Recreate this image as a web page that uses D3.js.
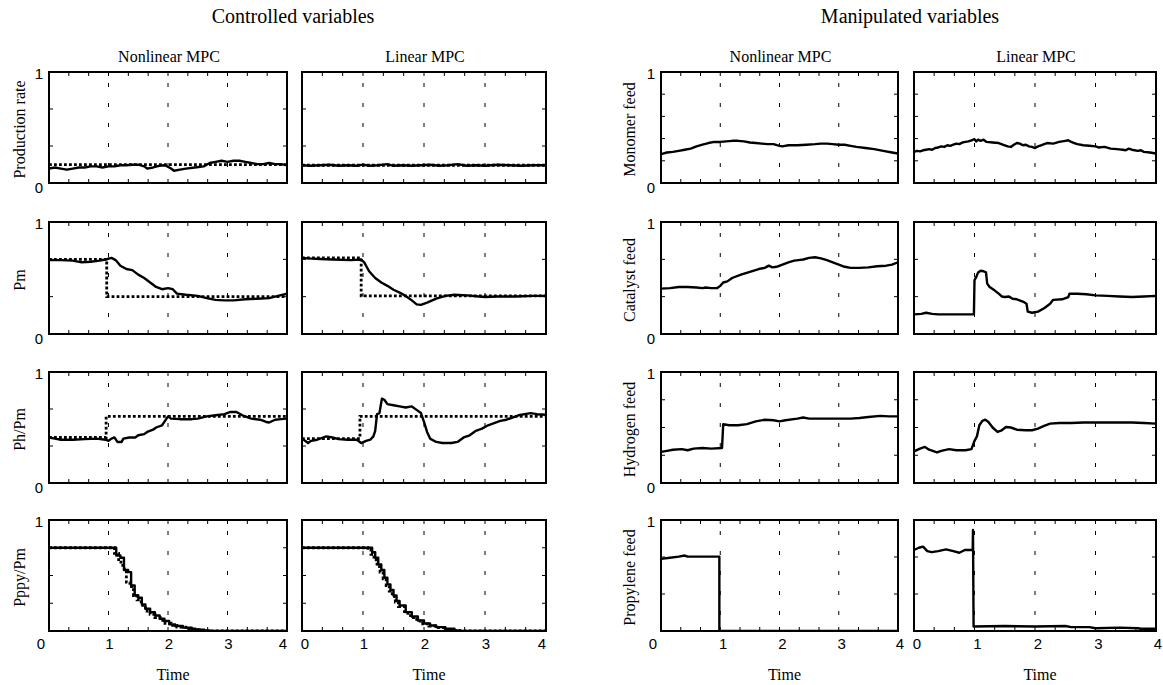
<!DOCTYPE html>
<html>
<head>
<meta charset="utf-8">
<script src="https://cdn.jsdelivr.net/npm/d3@7"></script>
<style>
  html, body { margin: 0; padding: 0; background: #fff; }
  svg { display: block; }
  .serif { font-family: "Liberation Serif", "Times New Roman", serif; fill: #000; }
  .sans { font-family: "Liberation Sans", Arial, sans-serif; fill: #000; }
</style>
</head>
<body>
<svg id="chart" width="1163" height="685"></svg>
<script>
// ---- Data -------------------------------------------------------------
const timeTicks = [0, 1, 2, 3, 4];
const groupTitles = ["Controlled variables", "Manipulated variables"];
const columnTitles = ["Nonlinear MPC", "Linear MPC"];
const controlledLabels = ["Production rate", "Pm", "Ph/Pm", "Pppy/Pm"];
const manipulatedLabels = ["Monomer feed", "Catalyst feed", "Hydrogen feed", "Propylene feed"];

// Production rate
const prodNonlinear = [[0,0.13],[0.1,0.14],[0.2,0.13],[0.3,0.12],[0.4,0.13],[0.5,0.14],[0.6,0.14],[0.7,0.15],[0.8,0.15],[0.9,0.14],[1.0,0.15],[1.1,0.15],[1.2,0.16],[1.3,0.16],[1.4,0.165],[1.5,0.165],[1.6,0.15],[1.65,0.13],[1.75,0.14],[1.85,0.155],[1.95,0.16],[2.05,0.13],[2.1,0.11],[2.2,0.12],[2.3,0.13],[2.45,0.14],[2.6,0.15],[2.7,0.18],[2.8,0.19],[2.9,0.2],[3.0,0.19],[3.1,0.2],[3.2,0.2],[3.3,0.19],[3.4,0.18],[3.5,0.17],[3.6,0.17],[3.7,0.18],[3.8,0.17],[3.9,0.17],[4.0,0.16]];
const prodNonlinearSet = [[0,0.165],[4,0.165]];
const prodLinear = [[0,0.16],[0.15,0.155],[0.3,0.16],[0.45,0.165],[0.6,0.155],[0.75,0.16],[0.9,0.155],[1.0,0.165],[1.1,0.155],[1.25,0.16],[1.4,0.17],[1.5,0.155],[1.65,0.16],[1.8,0.155],[1.95,0.16],[2.1,0.165],[2.25,0.155],[2.4,0.16],[2.55,0.17],[2.7,0.155],[2.85,0.16],[3.0,0.155],[3.2,0.165],[3.4,0.16],[3.6,0.155],[3.8,0.16],[4,0.16]];
const prodLinearSet = [[0,0.16],[4,0.16]];

// Pm
const pmNonlinear = [[0,0.66],[0.2,0.66],[0.4,0.655],[0.55,0.64],[0.7,0.645],[0.85,0.655],[0.95,0.665],[1.05,0.68],[1.12,0.66],[1.2,0.61],[1.3,0.58],[1.4,0.57],[1.5,0.53],[1.6,0.5],[1.7,0.46],[1.8,0.42],[1.9,0.4],[2.0,0.41],[2.08,0.4],[2.15,0.36],[2.3,0.35],[2.5,0.34],[2.65,0.32],[2.8,0.305],[2.95,0.3],[3.1,0.3],[3.3,0.31],[3.5,0.315],[3.7,0.32],[3.85,0.34],[4.0,0.36]];
const pmNonlinearSet = [[0,0.667],[0.97,0.333],[4,0.333]];
const pmLinear = [[0,0.68],[0.1,0.675],[0.3,0.67],[0.5,0.665],[0.8,0.66],[0.97,0.665],[1.02,0.64],[1.1,0.56],[1.2,0.5],[1.3,0.46],[1.4,0.43],[1.5,0.395],[1.6,0.37],[1.7,0.34],[1.8,0.3],[1.88,0.265],[1.95,0.26],[2.05,0.28],[2.2,0.315],[2.35,0.34],[2.5,0.35],[2.7,0.345],[2.9,0.335],[3.0,0.33],[3.2,0.335],[3.5,0.335],[3.8,0.34],[4.0,0.34]];
const pmLinearSet = [[0,0.68],[0.97,0.34],[4,0.34]];

// Ph/Pm
const phNonlinear = [[0,0.41],[0.1,0.4],[0.2,0.39],[0.4,0.39],[0.6,0.395],[0.8,0.4],[0.95,0.39],[1.0,0.38],[1.05,0.4],[1.1,0.41],[1.15,0.37],[1.22,0.37],[1.25,0.4],[1.35,0.41],[1.45,0.41],[1.5,0.43],[1.6,0.44],[1.65,0.46],[1.75,0.48],[1.8,0.5],[1.9,0.52],[1.95,0.56],[2.0,0.6],[2.05,0.58],[2.2,0.575],[2.4,0.575],[2.5,0.58],[2.65,0.6],[2.8,0.61],[2.95,0.62],[3.05,0.64],[3.15,0.64],[3.25,0.61],[3.4,0.58],[3.55,0.57],[3.65,0.55],[3.7,0.545],[3.8,0.57],[3.9,0.575],[4.0,0.58]];
const phNonlinearSet = [[0,0.41],[0.96,0.6],[4,0.6]];
const phLinear = [[0,0.4],[0.05,0.38],[0.1,0.36],[0.15,0.38],[0.25,0.39],[0.4,0.42],[0.5,0.41],[0.6,0.395],[0.75,0.39],[0.9,0.39],[0.97,0.36],[1.05,0.38],[1.12,0.39],[1.17,0.42],[1.2,0.47],[1.23,0.62],[1.27,0.63],[1.31,0.76],[1.35,0.75],[1.4,0.71],[1.5,0.7],[1.6,0.69],[1.7,0.68],[1.8,0.69],[1.85,0.67],[1.95,0.63],[2.0,0.55],[2.05,0.46],[2.1,0.4],[2.2,0.37],[2.3,0.36],[2.45,0.36],[2.55,0.37],[2.65,0.41],[2.75,0.43],[2.85,0.47],[2.95,0.49],[3.05,0.52],[3.15,0.54],[3.25,0.56],[3.35,0.57],[3.45,0.59],[3.55,0.61],[3.65,0.62],[3.75,0.63],[3.85,0.62],[4.0,0.615]];
const phLinearSet = [[0,0.4],[0.95,0.6],[4,0.6]];

// Pppy/Pm
const pppyNonlinear = [[0,0.75],[1.13,0.68],[1.2,0.66],[1.26,0.55],[1.33,0.53],[1.38,0.41],[1.44,0.32],[1.5,0.3],[1.56,0.24],[1.62,0.2],[1.7,0.17],[1.78,0.14],[1.86,0.11],[1.94,0.09],[2.02,0.06],[2.12,0.045],[2.25,0.03],[2.4,0.015],[2.55,0.005],[2.7,0],[4,0]];
const pppyNonlinearSet = [[0,0.75],[1.1,0.7],[1.17,0.62],[1.24,0.56],[1.3,0.44],[1.36,0.4],[1.42,0.32],[1.48,0.28],[1.55,0.23],[1.62,0.18],[1.7,0.15],[1.78,0.12],[1.87,0.095],[1.95,0.07],[2.05,0.05],[2.15,0.035],[2.3,0.02],[2.45,0.01],[2.6,0],[4,0]];
const pppyLinear = [[0,0.75],[1.1,0.75],[1.15,0.71],[1.2,0.66],[1.25,0.6],[1.3,0.55],[1.35,0.48],[1.4,0.42],[1.45,0.37],[1.5,0.32],[1.55,0.27],[1.6,0.23],[1.7,0.17],[1.8,0.13],[1.9,0.095],[2.0,0.068],[2.1,0.05],[2.2,0.035],[2.35,0.02],[2.5,0.005],[2.6,0],[4,0]];
const pppyLinearSet = [[0,0.75],[1.08,0.73],[1.13,0.69],[1.18,0.64],[1.23,0.58],[1.28,0.53],[1.33,0.47],[1.38,0.41],[1.43,0.36],[1.48,0.31],[1.53,0.26],[1.58,0.22],[1.68,0.16],[1.78,0.12],[1.88,0.09],[1.98,0.065],[2.08,0.045],[2.18,0.03],[2.33,0.015],[2.48,0.004],[2.58,0],[4,0]];

// Monomer feed
const monoNonlinear = [[0,0.26],[0.1,0.275],[0.2,0.28],[0.3,0.29],[0.4,0.3],[0.5,0.31],[0.6,0.33],[0.7,0.345],[0.8,0.36],[0.9,0.37],[1.0,0.37],[1.1,0.375],[1.2,0.38],[1.3,0.38],[1.4,0.375],[1.5,0.365],[1.6,0.36],[1.7,0.355],[1.8,0.35],[1.9,0.35],[2.0,0.335],[2.05,0.33],[2.15,0.34],[2.3,0.34],[2.45,0.345],[2.6,0.35],[2.7,0.355],[2.8,0.355],[2.9,0.35],[3.0,0.345],[3.1,0.345],[3.2,0.335],[3.3,0.325],[3.45,0.315],[3.6,0.305],[3.75,0.29],[3.9,0.275],[4.0,0.265]];
const monoLinear = [[0,0.28],[0.05,0.29],[0.1,0.285],[0.15,0.295],[0.2,0.3],[0.25,0.305],[0.3,0.3],[0.35,0.315],[0.4,0.32],[0.45,0.33],[0.5,0.325],[0.55,0.34],[0.6,0.335],[0.65,0.345],[0.7,0.355],[0.75,0.35],[0.8,0.365],[0.85,0.37],[0.9,0.375],[0.95,0.385],[1.0,0.395],[1.03,0.375],[1.06,0.39],[1.1,0.38],[1.15,0.39],[1.2,0.37],[1.3,0.365],[1.4,0.36],[1.5,0.34],[1.55,0.33],[1.6,0.325],[1.65,0.345],[1.7,0.36],[1.75,0.355],[1.8,0.34],[1.85,0.345],[1.9,0.33],[1.95,0.325],[2.0,0.315],[2.05,0.33],[2.1,0.34],[2.15,0.35],[2.2,0.36],[2.3,0.355],[2.4,0.37],[2.5,0.38],[2.55,0.385],[2.6,0.37],[2.65,0.36],[2.7,0.35],[2.8,0.34],[2.9,0.335],[3.0,0.33],[3.05,0.32],[3.15,0.325],[3.25,0.31],[3.35,0.305],[3.45,0.3],[3.5,0.295],[3.55,0.31],[3.6,0.3],[3.7,0.29],[3.75,0.295],[3.8,0.28],[3.9,0.275],[4.0,0.265]];

// Catalyst feed
const catNonlinear = [[0,0.405],[0.15,0.41],[0.3,0.42],[0.45,0.42],[0.6,0.415],[0.7,0.41],[0.75,0.415],[0.85,0.41],[0.95,0.41],[1.0,0.43],[1.05,0.46],[1.12,0.47],[1.2,0.5],[1.35,0.53],[1.5,0.555],[1.65,0.58],[1.75,0.59],[1.82,0.61],[1.88,0.595],[1.95,0.6],[2.05,0.62],[2.15,0.64],[2.25,0.655],[2.32,0.66],[2.4,0.665],[2.5,0.68],[2.6,0.685],[2.7,0.675],[2.8,0.66],[2.9,0.64],[3.0,0.62],[3.1,0.6],[3.2,0.59],[3.35,0.59],[3.5,0.595],[3.65,0.605],[3.8,0.61],[3.9,0.62],[4.0,0.64]];
const catLinear = [[0,0.175],[0.12,0.18],[0.2,0.19],[0.3,0.18],[0.4,0.175],[0.99,0.175],[1.0,0.48],[1.03,0.51],[1.06,0.55],[1.1,0.565],[1.15,0.56],[1.19,0.55],[1.21,0.45],[1.25,0.42],[1.33,0.39],[1.4,0.36],[1.45,0.335],[1.5,0.33],[1.57,0.335],[1.63,0.315],[1.7,0.31],[1.8,0.29],[1.86,0.27],[1.88,0.2],[1.95,0.19],[2.05,0.2],[2.15,0.23],[2.25,0.27],[2.3,0.305],[2.45,0.31],[2.55,0.33],[2.57,0.36],[2.7,0.36],[2.85,0.355],[3.0,0.345],[3.2,0.34],[3.4,0.335],[3.6,0.33],[3.8,0.335],[4.0,0.34]];

// Hydrogen feed
const hydNonlinear = [[0,0.28],[0.1,0.29],[0.2,0.3],[0.35,0.305],[0.45,0.295],[0.55,0.31],[0.7,0.315],[0.85,0.31],[1.03,0.315],[1.05,0.53],[1.15,0.52],[1.3,0.52],[1.45,0.53],[1.6,0.555],[1.75,0.57],[1.9,0.565],[2.0,0.555],[2.1,0.565],[2.3,0.58],[2.4,0.59],[2.5,0.58],[2.7,0.58],[3.0,0.58],[3.2,0.58],[3.35,0.585],[3.5,0.595],[3.7,0.605],[3.85,0.6],[4.0,0.6]];
const hydLinear = [[0,0.285],[0.1,0.31],[0.18,0.325],[0.25,0.3],[0.38,0.275],[0.45,0.29],[0.58,0.305],[0.7,0.295],[0.85,0.295],[0.95,0.305],[1.0,0.38],[1.04,0.42],[1.08,0.52],[1.13,0.56],[1.18,0.57],[1.23,0.55],[1.3,0.5],[1.38,0.46],[1.45,0.475],[1.52,0.505],[1.6,0.5],[1.7,0.48],[1.85,0.475],[1.95,0.475],[2.05,0.49],[2.15,0.515],[2.25,0.535],[2.4,0.54],[2.6,0.54],[2.8,0.545],[3.0,0.545],[3.3,0.545],[3.6,0.545],[3.8,0.54],[4.0,0.535]];

// Propylene feed
const propNonlinear = [[0,0.65],[0.15,0.66],[0.3,0.67],[0.4,0.68],[0.45,0.67],[0.6,0.67],[0.985,0.67],[0.985,0],[4,0]];
const propLinear = [[0,0.73],[0.08,0.75],[0.15,0.76],[0.22,0.72],[0.29,0.71],[0.4,0.72],[0.53,0.735],[0.65,0.72],[0.75,0.705],[0.84,0.73],[0.97,0.73],[0.975,0.91],[0.985,0.04],[1.5,0.045],[2.0,0.04],[2.5,0.045],[2.6,0.035],[2.9,0.035],[3.0,0.025],[3.4,0.03],[3.7,0.025],[3.75,0.02],[4.0,0.02]];

// ---- Layout -----------------------------------------------------------
const svg = d3.select("#chart");
svg.append("rect").attr("width", 1163).attr("height", 685).attr("fill", "#fff");

const columns = [
  { x0: 49,  x1: 287,  group: 0 },
  { x0: 302, x1: 546,  group: 0 },
  { x0: 661, x1: 898,  group: 1 },
  { x0: 914, x1: 1156, group: 1 }
];
const rows = [
  { y0: 72,  y1: 183 },
  { y0: 222, y1: 334 },
  { y0: 372, y1: 483 },
  { y0: 520, y1: 631 }
];
// number of y intervals marked by ticks, per group and row
const yDivisions = [[3, 3, 3, 4], [5, 3, 4, 3]];

// panel definitions: [col, row, solid, dotted, solidCurve, dottedCurve]
const step = d3.curveStepAfter, lin = d3.curveLinear;
const panels = [
  [0, 0, prodNonlinear, prodNonlinearSet, lin, lin],
  [1, 0, prodLinear, prodLinearSet, lin, lin],
  [0, 1, pmNonlinear, pmNonlinearSet, lin, step],
  [1, 1, pmLinear, pmLinearSet, lin, step],
  [0, 2, phNonlinear, phNonlinearSet, lin, step],
  [1, 2, phLinear, phLinearSet, lin, step],
  [0, 3, pppyNonlinear, pppyNonlinearSet, step, step],
  [1, 3, pppyLinear, pppyLinearSet, step, step],
  [2, 0, monoNonlinear, null, lin, null],
  [3, 0, monoLinear, null, lin, null],
  [2, 1, catNonlinear, null, lin, null],
  [3, 1, catLinear, null, lin, null],
  [2, 2, hydNonlinear, null, lin, null],
  [3, 2, hydLinear, null, lin, null],
  [2, 3, propNonlinear, null, lin, null],
  [3, 3, propLinear, null, lin, null]
];

const defs = svg.append("defs");

panels.forEach(([ci, ri, solid, dotted, sc, dc], idx) => {
  const col = columns[ci], row = rows[ri];
  const x = d3.scaleLinear().domain([0, 4]).range([col.x0, col.x1]);
  const y = d3.scaleLinear().domain([0, 1]).range([row.y1, row.y0]);
  const g = svg.append("g");
  const clipId = "clip" + idx;
  defs.append("clipPath").attr("id", clipId)
    .append("rect").attr("x", col.x0).attr("y", row.y0)
    .attr("width", col.x1 - col.x0).attr("height", row.y1 - row.y0);

  // dashed grid lines at integer times
  g.selectAll(".grid").data([1, 2, 3]).join("line")
    .attr("x1", d => x(d)).attr("x2", d => x(d))
    .attr("y1", row.y0).attr("y2", row.y1)
    .attr("stroke", "#000").attr("stroke-width", 1)
    .attr("stroke-dasharray", "4,16").attr("stroke-dashoffset", 9);

  // inward minor ticks (x every 1/3, y per row setting)
  const xt = d3.range(1, 12).map(i => i / 3);
  const nDiv = yDivisions[col.group][ri];
  const yt = d3.range(1, nDiv).map(i => i / nDiv);
  const tl = 4;
  g.selectAll(".xtb").data(xt).join("line")
    .attr("x1", d => x(d)).attr("x2", d => x(d))
    .attr("y1", row.y1).attr("y2", row.y1 - tl)
    .attr("stroke", "#000").attr("stroke-width", 1);
  g.selectAll(".xtt").data(xt).join("line")
    .attr("x1", d => x(d)).attr("x2", d => x(d))
    .attr("y1", row.y0).attr("y2", row.y0 + tl)
    .attr("stroke", "#000").attr("stroke-width", 1);
  g.selectAll(".ytl").data(yt).join("line")
    .attr("x1", col.x0).attr("x2", col.x0 + tl)
    .attr("y1", d => y(d)).attr("y2", d => y(d))
    .attr("stroke", "#000").attr("stroke-width", 1);
  g.selectAll(".ytr").data(yt).join("line")
    .attr("x1", col.x1).attr("x2", col.x1 - tl)
    .attr("y1", d => y(d)).attr("y2", d => y(d))
    .attr("stroke", "#000").attr("stroke-width", 1);

  const plot = g.append("g").attr("clip-path", `url(#${clipId})`);
  if (dotted) {
    plot.append("path").datum(dotted)
      .attr("d", d3.line().x(d => x(d[0])).y(d => y(d[1])).curve(dc))
      .attr("fill", "none").attr("stroke", "#000")
      .attr("stroke-width", 2.8).attr("stroke-dasharray", "2.8,2.2");
  }
  plot.append("path").datum(solid)
    .attr("d", d3.line().x(d => x(d[0])).y(d => y(d[1])).curve(sc))
    .attr("fill", "none").attr("stroke", "#000")
    .attr("stroke-width", 2.4).attr("stroke-linejoin", "round");

  // frame
  g.append("rect").attr("x", col.x0).attr("y", row.y0)
    .attr("width", col.x1 - col.x0).attr("height", row.y1 - row.y0)
    .attr("fill", "none").attr("stroke", "#000").attr("stroke-width", 2);

  // y labels on first column of each group
  const first = (ci === 0 || ci === 2);
  if (first) {
    g.append("text").attr("class", "sans").attr("font-size", 15)
      .attr("x", col.x0 - 6).attr("y", y(1) + 1)
      .attr("text-anchor", "end").attr("dominant-baseline", "central").text("1");
    if (ri < 3) {
      g.append("text").attr("class", "sans").attr("font-size", 15)
        .attr("x", col.x0 - 6).attr("y", y(0) + 4)
        .attr("text-anchor", "end").attr("dominant-baseline", "central").text("0");
    }
    const names = ci === 0 ? controlledLabels : manipulatedLabels;
    const lx = ci === 0 ? 25 : 635;
    const cy = (row.y0 + row.y1) / 2 + 2;
    g.append("text").attr("class", "serif").attr("font-size", 16)
      .attr("transform", `translate(${lx},${cy}) rotate(-90)`)
      .attr("text-anchor", "middle").text(names[ri]);
  }

  // x labels on bottom row
  if (ri === 3) {
    const shift = col.group === 0 ? 1 : 3;
    g.selectAll(".xl").data(timeTicks).join("text")
      .attr("class", "sans").attr("font-size", 15)
      .attr("x", d => {
        if (d === 0) return first ? x(d) - 8 : x(d) + 3;
        if (d === 4) return col.group === 0 ? x(d) - 4 : x(d) + 2;
        return x(d) + shift;
      })
      .attr("y", 643).attr("text-anchor", "middle")
      .attr("dominant-baseline", "central").text(d => d);
    g.append("text").attr("class", "serif").attr("font-size", 16)
      .attr("x", (col.x0 + col.x1) / 2 + 5).attr("y", 680)
      .attr("text-anchor", "middle").text("Time");
  }

  // column titles on top row
  if (ri === 0) {
    g.append("text").attr("class", "serif").attr("font-size", 16)
      .attr("x", (col.x0 + col.x1) / 2 + 1).attr("y", 61.5)
      .attr("text-anchor", "middle").text(columnTitles[ci % 2]);
  }
});

// group titles
svg.append("text").attr("class", "serif").attr("font-size", 20)
  .attr("x", 293).attr("y", 22.5).attr("text-anchor", "middle").text(groupTitles[0]);
svg.append("text").attr("class", "serif").attr("font-size", 20)
  .attr("x", 910).attr("y", 22.5).attr("text-anchor", "middle").text(groupTitles[1]);
</script>
</body>
</html>
